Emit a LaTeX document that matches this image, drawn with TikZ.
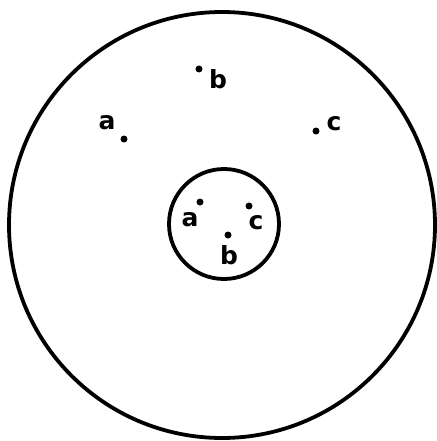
\documentclass[tikz,border=0pt]{standalone}
\usepackage{fontspec}
\setmainfont{DejaVu Sans}
\begin{document}
\begin{tikzpicture}[x=1pt,y=-1pt,
  ring/.style={draw=black,line width=3.8pt,circle,inner sep=0pt},
  pt/.style={fill=black,circle,inner sep=0pt,minimum size=7pt},
  lbl/.style={font=\fontsize{25}{25}\selectfont\bfseries,inner sep=0pt}]
\useasboundingbox (0,0) rectangle (436,441);
\node[ring,minimum size=426pt] (outer) at (222,225) {};
\node[ring,minimum size=110pt] (inner) at (224,224) {};
% outer points
\node[pt] (ob) at (199,69) {};
\node[lbl] (obl) at (218,79) {b};
\node[pt] (oa) at (124,139) {};
\node[lbl] (oal) at (107,123) {a};
\node[pt] (oc) at (316,131) {};
\node[lbl] (ocl) at (334,124) {c};
% inner points
\node[pt] (ia) at (200,202) {};
\node[lbl] (ial) at (190,220) {a};
\node[pt] (ic) at (249,206) {};
\node[lbl] (icl) at (256,223) {c};
\node[pt] (ib) at (228,235) {};
\node[lbl] (ibl) at (229,255) {b};
\end{tikzpicture}
\end{document}
